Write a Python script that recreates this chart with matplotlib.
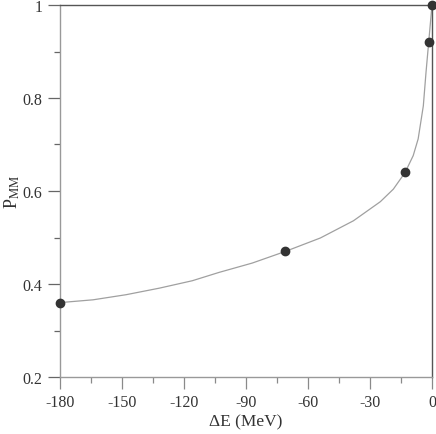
import matplotlib
matplotlib.use("Agg")
from matplotlib import pyplot as plt
from matplotlib.ticker import MultipleLocator, FixedLocator, FuncFormatter

# measured points
delta_e = [-180, -71, -13, -1.6, 0]
p_mm = [0.36, 0.47, 0.64, 0.92, 1.0]

# smooth guide curve
curve_e = [-180, -164, -148, -132, -116, -103, -87, -71, -54, -38, -25,
           -18.7, -13, -9.1, -6.7, -4.2, -2.9, -1.6, -0.7, 0]
curve_p = [0.360, 0.366, 0.377, 0.391, 0.407, 0.425, 0.445, 0.470, 0.499,
           0.536, 0.577, 0.604, 0.640, 0.676, 0.712, 0.783, 0.855, 0.920,
           0.965, 1.0]

x_ticks = [-180, -150, -120, -90, -60, -30, 0]
y_ticks = [0.2, 0.4, 0.6, 0.8, 1.0]

plt.rcParams['font.family'] = ['Liberation Serif', 'DejaVu Serif']
plt.rcParams['mathtext.fontset'] = 'stix'
plt.rcParams['axes.unicode_minus'] = False

fig = plt.figure(figsize=(4.36, 4.35), dpi=100)
ax = fig.add_axes([60 / 436, 57 / 435, 372 / 436, 372 / 435])

ax.plot(curve_e, curve_p, color='#a0a0a0', lw=0.9, zorder=2)
ax.plot(delta_e, p_mm, 'o', color='#333333', ms=6, zorder=3, clip_on=False)

ax.set_xlim(-180, 0)
ax.set_ylim(0.2, 1.0)
ax.xaxis.set_major_locator(FixedLocator(x_ticks))
ax.xaxis.set_minor_locator(MultipleLocator(15))
ax.yaxis.set_major_locator(FixedLocator(y_ticks))
ax.yaxis.set_minor_locator(MultipleLocator(0.1))
ax.yaxis.set_major_formatter(FuncFormatter(lambda v, p: '1' if v > 0.99 else f'{v:.1f}'))

ax.tick_params(which='major', direction='out', length=8.6, width=0.9, color='#8a8a8a',
               labelsize=11.5, labelcolor='#333333', pad=4)
ax.tick_params(which='minor', direction='out', length=4.3, width=0.9, color='#8a8a8a')
ax.tick_params(axis='y', which='both', color='#666666')

# tick at x=0 continues the dark right edge
ax.xaxis.get_major_ticks()[-1].tick1line.set_color('#555555')

for side in ['left', 'bottom']:
    ax.spines[side].set_color('#999999')
    ax.spines[side].set_linewidth(1.0)
for side in ['top', 'right']:
    ax.spines[side].set_color('#555555')
    ax.spines[side].set_linewidth(1.0)

ax.set_xlabel('ΔE (MeV)', fontsize=12.5, color='#333333', labelpad=2)
ax.set_ylabel(r'P$_{\rm MM}$', fontsize=13, color='#333333', va='center')
ax.yaxis.set_label_coords(-0.128, 0.5)

fig.savefig('out.png', dpi=100)
